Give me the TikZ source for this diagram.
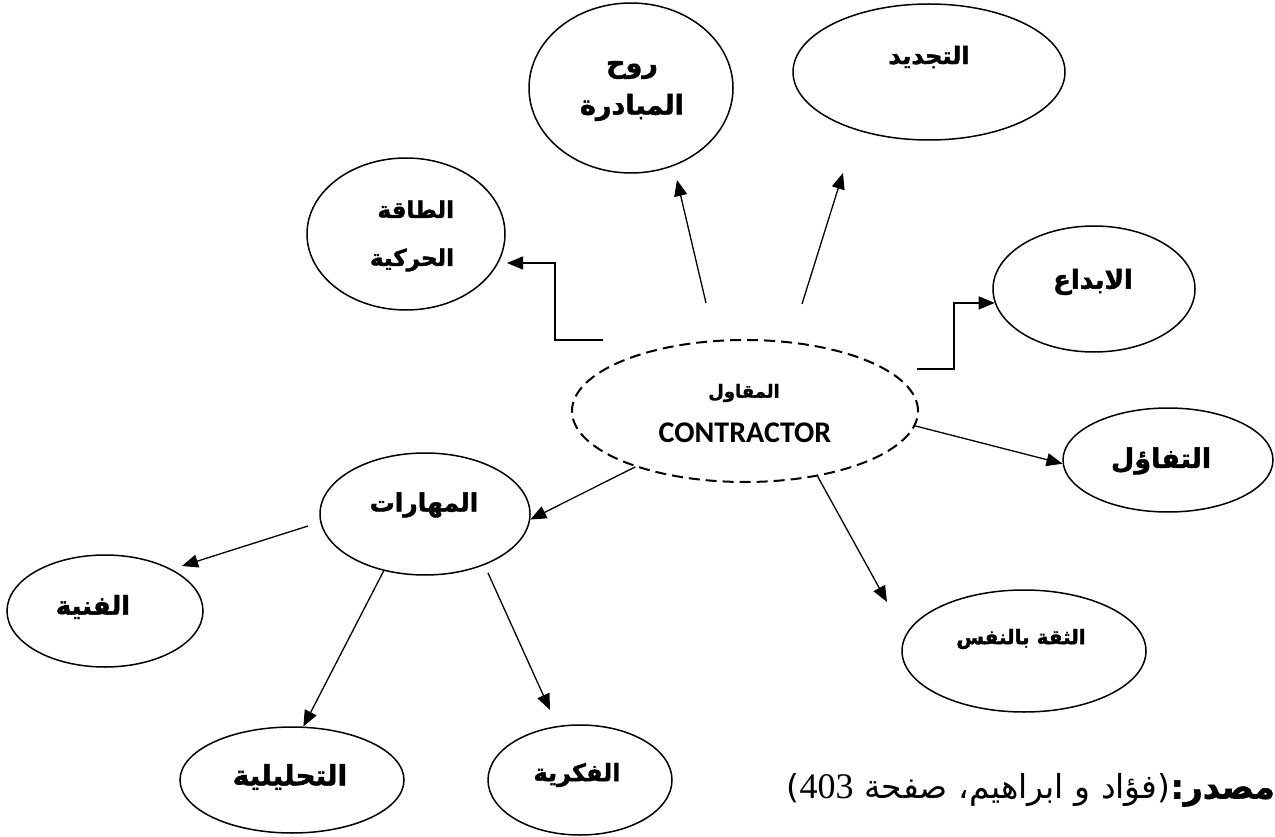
\documentclass[tikz,border=0pt]{standalone}
\usepackage{fontspec}
\usetikzlibrary{shapes.geometric,arrows.meta}
\TeXXeTstate=1
\newfontfamily\arab[Script=Arabic]{DejaVu Sans}
\newfontfamily\arabB[Script=Arabic,FakeBold=1.6]{DejaVu Sans Bold}
\newfontfamily\carl{Carlito}
\newfontfamily\serifdig{Liberation Serif}
\newcommand{\AR}[1]{\beginR #1\endR}
\tikzset{
  bub/.style={ellipse, draw, line width=1.5pt, inner sep=0pt},
  lbl/.style={font=\arabB\fontsize{26}{42}\selectfont, align=center, inner sep=0pt},
  arr/.style={line width=1.3pt, -{Triangle[length=16pt,width=13pt]}}
}
\begin{document}
\begin{tikzpicture}[x=1pt,y=-1pt]
\useasboundingbox (0,0) rectangle (1275,837);
\fill[white] (0,0) rectangle (1275,837);

% ellipses
\node[bub, minimum width=204, minimum height=170] (ruh) at (631,88) {};
\node[bub, minimum width=272, minimum height=136] (taj) at (929,72) {};
\node[bub, minimum width=198, minimum height=152] (taqa) at (406,234) {};
\node[bub, minimum width=202, minimum height=126] (ibda) at (1094,289) {};
\node[bub, dash pattern=on 11pt off 6pt, line width=2pt, minimum width=346, minimum height=142] (con) at (745,411) {};
\node[bub, minimum width=210, minimum height=104] (tafaul) at (1168,460) {};
\node[bub, minimum width=244, minimum height=122] (thiqa) at (1024,651) {};
\node[bub, minimum width=210, minimum height=122] (maharat) at (425,514) {};
\node[bub, minimum width=196, minimum height=112] (fanniya) at (105,611) {};
\node[bub, minimum width=224, minimum height=106] (tahlil) at (292,780) {};
\node[bub, minimum width=184, minimum height=110] (fikr) at (580,780) {};

% labels
\node[lbl, font=\arabB\fontsize{27}{42}\selectfont] (ruh-t) at (632,91) {\AR{روح}\\\AR{المبادرة}};
\node[lbl, font=\arabB\fontsize{24}{30}\selectfont] (taj-t) at (929,57) {\AR{التجديد}};
\node[lbl, align=right, font=\arabB\fontsize{23}{48}\selectfont] (taqa-t) at (412,236) {\AR{الطاقة}\\\AR{الحركية}};
\node[lbl] (ibda-t) at (1093,282) {\AR{الابداع}};
\node[font=\arabB\fontsize{18}{22}\selectfont, inner sep=0pt] (con-a) at (744,393) {\AR{المقاول}};
\node[font=\carl\bfseries\fontsize{30}{34}\selectfont, inner sep=0pt] (con-e) at (745,433) {CONTRACTOR};
\node[lbl, font=\arabB\fontsize{27}{34}\selectfont] (tafaul-t) at (1161,461) {\AR{التفاؤل}};
\node[lbl, font=\arabB\fontsize{20}{26}\selectfont] (thiqa-t) at (1021,639) {\AR{الثقة بالنفس}};
\node[lbl, font=\arabB\fontsize{25}{30}\selectfont] (maharat-t) at (424,505) {\AR{المهارات}};
\node[lbl] (fanniya-t) at (93,607) {\AR{الفنية}};
\node[lbl, font=\arabB\fontsize{28}{34}\selectfont] (tahlil-t) at (290,777) {\AR{التحليلية}};
\node[lbl, font=\arabB\fontsize{24}{30}\selectfont] (fikr-t) at (577,775) {\AR{الفكرية}};

% source
\node[anchor=east, inner sep=0pt, font=\arab\fontsize{33}{40}\selectfont] (src) at (1275,790)
  {\AR{{\arabB مصدر:}(فؤاد و ابراهيم، صفحة \beginL{\serifdig\fontsize{36}{40}\selectfont 403}\endL)}};

% connector ends
\coordinate (s-taqa) at (603,340);
\coordinate (t-taqa) at (507,263);
\coordinate (s-ruh) at (706,303);
\coordinate (t-ruh) at (677,180);
\coordinate (s-taj) at (802,304);
\coordinate (t-taj) at (843,173);
\coordinate (s-ibda) at (917,369);
\coordinate (t-thiqa) at (887,602);
\coordinate (s-fan) at (308,526);
\coordinate (t-fan) at (182,566);
\coordinate (s-fik) at (488,573);
\coordinate (t-fik) at (550,710);

% connectors
\draw[arr] (s-taqa) -- ++(-48,0) |- (t-taqa);
\draw[arr] (s-ruh) -- (t-ruh);
\draw[arr] (s-taj) -- (t-taj);
\draw[arr] (s-ibda) -- ++(37,0) |- (ibda.188);
\draw[arr] (con.-5.6) -- (tafaul.182);
\draw[arr] (con.-42.5) -- (t-thiqa);
\draw[arr] (con.207) -- (maharat.-3);
\draw[arr] (s-fan) -- (t-fan);
\draw[arr] (maharat.234) -- (tahlil.78);
\draw[arr] (s-fik) -- (t-fik);
\end{tikzpicture}
\end{document}
